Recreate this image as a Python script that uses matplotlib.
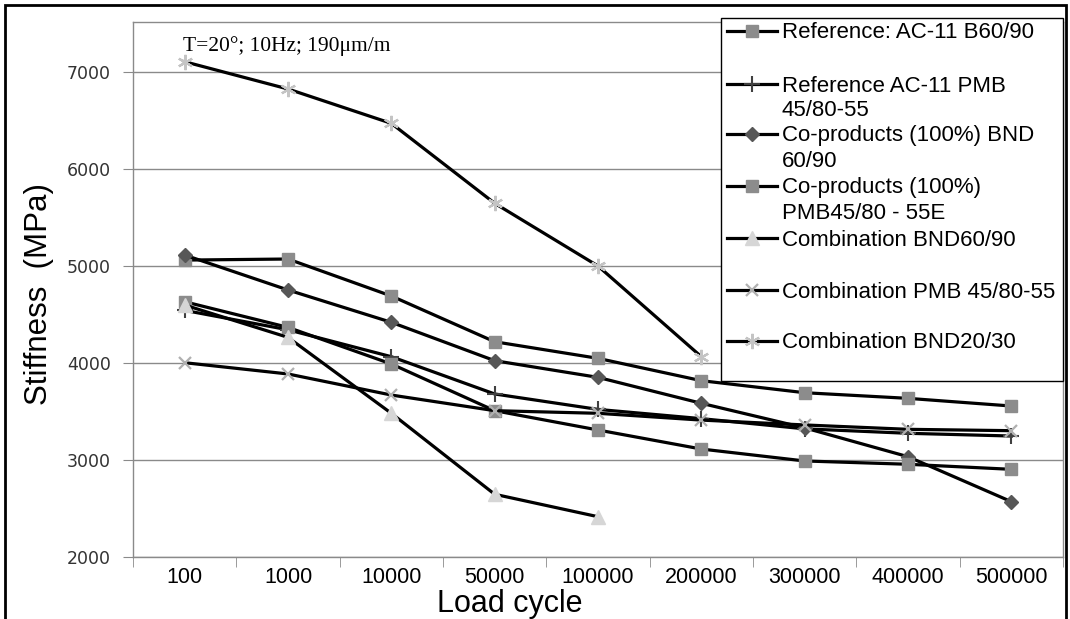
import matplotlib
matplotlib.use('Agg')
import matplotlib.pyplot as plt
from matplotlib.patches import Rectangle
import numpy as np

# load cycles (category axis)
cycles = ['100', '1000', '10000', '50000', '100000', '200000', '300000', '400000', '500000']

# stiffness values (MPa)
ref_b6090 = [5058, 5069, 4688, 4217, 4046, 3816, 3692, 3634, 3555]
ref_pmb = [4540, 4340, 4063, 3679, 3520, 3425, 3320, 3274, 3246]
co_bnd6090 = [5110, 4750, 4417, 4022, 3850, 3583, 3330, 3033, 2570]
co_pmb = [4629, 4365, 3988, 3507, 3308, 3112, 2989, 2955, 2903]
comb_bnd6090 = [4595, 4262, 3480, 2646, 2415]
comb_pmb = [4001, 3885, 3668, 3507, 3480, 3410, 3360, 3315, 3301]
comb_bnd2030 = [7101, 6820, 6466, 5643, 4997, 4063]

labels = ['Reference: AC-11 B60/90',
          'Reference AC-11 PMB\n45/80-55',
          'Co-products (100%) BND\n60/90',
          'Co-products (100%)\nPMB45/80 - 55E',
          'Combination BND60/90',
          'Combination PMB 45/80-55',
          'Combination BND20/30']

W, H = 1070, 619
fig = plt.figure(figsize=(W / 100, H / 100), dpi=100)
ax = fig.add_axes([133 / W, 1 - 557 / H, 930 / W, 535 / H])

x = np.arange(len(cycles))
grid_c = '#8a8a8a'

series = [
    (ref_b6090, dict(marker='s', ms=9, mfc='#8c8c8c', mec='#8c8c8c')),
    (ref_pmb, dict(marker='+', ms=11, mec='#404040', mew=1.5)),
    (co_bnd6090, dict(marker='D', ms=7.5, mfc='#575757', mec='#575757')),
    (co_pmb, dict(marker='s', ms=9, mfc='#8c8c8c', mec='#8c8c8c')),
    (comb_bnd6090, dict(marker='^', ms=10, mfc='#d6d6d6', mec='#d6d6d6')),
    (comb_pmb, dict(marker='x', ms=9, mec='#b0b0b0', mew=1.6)),
    (comb_bnd2030, dict(marker=(6, 2, 0), ms=11, mec='#c4c4c4', mew=1.6)),
]
handles = []
for vals, style in series:
    h, = ax.plot(x[:len(vals)], vals, color='black', lw=2.3, **style)
    handles.append(h)

ax.set_xlim(-0.5, len(cycles) - 0.5)
ax.set_ylim(2000, 7510)
ax.set_yticks(range(2000, 7001, 1000))
ax.set_xticks(x)
ax.set_xticklabels(cycles, family=['Liberation Sans Narrow', 'Liberation Sans'], fontsize=15.5)
ax.set_xticks(np.arange(-0.5, len(cycles)), minor=True)
ax.tick_params(axis='x', which='major', length=0, pad=7, colors='black')
ax.tick_params(axis='x', which='minor', length=7, color=grid_c)
ax.tick_params(axis='y', length=7, color=grid_c, labelsize=12.5, labelcolor='#333333', pad=9)
ax.yaxis.grid(True, color=grid_c, lw=1)
ax.set_axisbelow(True)
for s in ax.spines.values():
    s.set_color(grid_c)
    s.set_linewidth(1)

fig.text(183 / W, 1 - 46 / H, 'T=20°; 10Hz; 190μm/m', family='Liberation Serif',
         fontsize=15.5, va='center', ha='left')
fig.text(39 / W, 1 - 294 / H, 'Stiffness  (MPa)', rotation=90, family='Liberation Sans',
         fontsize=22.5, va='center', ha='center')
fig.text(510 / W, 1 - 604 / H, 'Load cycle', family=['Liberation Sans Narrow', 'Liberation Sans'],
         fontsize=22, va='center', ha='center')

# legend box, entries placed one by one like the Excel legend
fig.patches.append(Rectangle((721 / W, 1 - 381 / H), 342 / W, 363 / H, transform=fig.transFigure,
                             facecolor='white', edgecolor='black', lw=1, zorder=4))
entry_y = [33, 86, 136, 188, 240, 292, 343]
line_gap = 25
leg_font = {'family': 'Liberation Sans', 'size': 16}
for h, lab, yc in zip(handles, labels, entry_y):
    parts = lab.split('\n')
    fig.legend([h], [parts[0]], loc='center left', bbox_to_anchor=(727 / W, 1 - yc / H),
               frameon=False, prop=leg_font, handlelength=2.25, handletextpad=0.22,
               borderpad=0, borderaxespad=0)
    for k, extra in enumerate(parts[1:], start=1):
        fig.text(782 / W, 1 - (yc + k * line_gap) / H, extra, va='center', ha='left',
                 zorder=6, **leg_font)

# outer chart frame
fig.patches.append(Rectangle((5 / W, -0.05), 1061 / W, 1.05 - 5 / H, transform=fig.transFigure,
                             facecolor='none', edgecolor='black', lw=2, zorder=6))

fig.savefig('out.png', dpi=100)
